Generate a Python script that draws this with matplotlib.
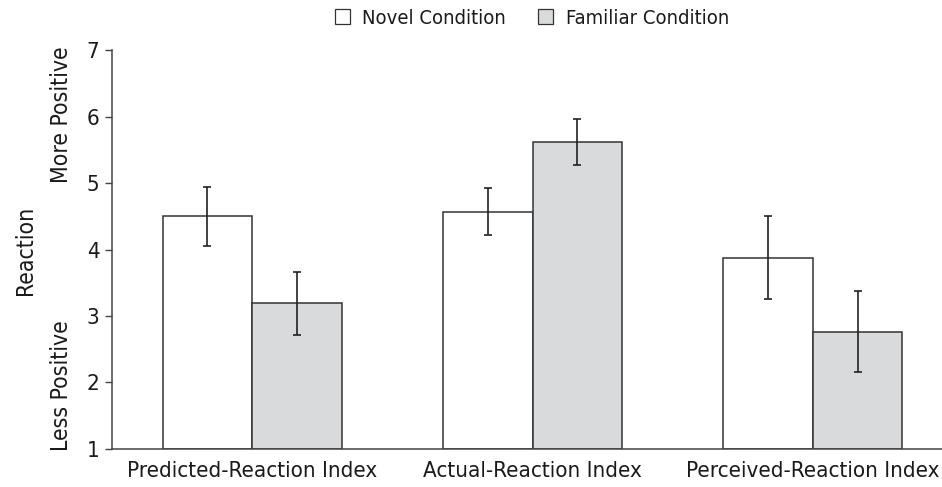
import numpy as np
import matplotlib
matplotlib.use("Agg")
import matplotlib.pyplot as plt
from matplotlib.patches import Patch

plt.rcParams['font.family'] = ['DejaVu Sans']
plt.rcParams['font.stretch'] = 'condensed'

# Mean reaction ratings with error bar ends
categories = ["Predicted-Reaction Index", "Actual-Reaction Index", "Perceived-Reaction Index"]
novel_means = [4.50, 4.57, 3.875]
novel_err_low = [4.05, 4.22, 3.25]
novel_err_high = [4.94, 4.92, 4.51]
familiar_means = [3.20, 5.62, 2.76]
familiar_err_low = [2.72, 5.27, 2.16]
familiar_err_high = [3.66, 5.96, 3.37]

novel_means = np.array(novel_means)
familiar_means = np.array(familiar_means)
novel_yerr = [novel_means - np.array(novel_err_low), np.array(novel_err_high) - novel_means]
familiar_yerr = [familiar_means - np.array(familiar_err_low), np.array(familiar_err_high) - familiar_means]

fig = plt.figure(figsize=(9.42, 4.87), dpi=100)
ax = fig.add_axes([112 / 942, 0.0786, (953 - 112) / 942, 0.818])

x = np.arange(len(categories))
w = 0.319
edge = "#333333"
grey = "#d9dadc"

ax.bar(x - w / 2, novel_means - 1, w, bottom=1, color="white", edgecolor=edge, linewidth=1.1)
ax.bar(x + w / 2, familiar_means - 1, w, bottom=1, color=grey, edgecolor=edge, linewidth=1.1)
ax.errorbar(x - w / 2, novel_means, yerr=novel_yerr, fmt="none", ecolor="#222222",
            elinewidth=1.2, capsize=3.2, capthick=1.2)
ax.errorbar(x + w / 2, familiar_means, yerr=familiar_yerr, fmt="none", ecolor="#222222",
            elinewidth=1.2, capsize=3.2, capthick=1.2)

ax.set_xlim(-0.5, 2.5)
ax.set_ylim(1, 7)
ax.set_yticks(range(1, 8))
ax.set_xticks(x)
ax.set_xticklabels(categories, fontsize=16, color="#1a1a1a")
ax.tick_params(axis="x", length=0, pad=9)
ax.tick_params(axis="y", length=5, width=1, color="#444444", labelsize=16,
               labelcolor="#1a1a1a", pad=4)

for side in ["top", "right"]:
    ax.spines[side].set_visible(False)
for side in ["left", "bottom"]:
    ax.spines[side].set_color("#444444")
    ax.spines[side].set_linewidth(1.1)

fig.text(25 / 942, 1 - 250 / 487, "Reaction", rotation=90, ha="center", va="center",
         fontsize=16.5, color="#1a1a1a")
fig.text(62 / 942, 1 - 115 / 487, "More Positive", rotation=90, ha="center", va="center",
         fontsize=16.5, color="#1a1a1a")
fig.text(62 / 942, 1 - 386 / 487, "Less Positive", rotation=90, ha="center", va="center",
         fontsize=16.5, color="#1a1a1a")

handles = [Patch(facecolor="white", edgecolor=edge, linewidth=0.9, label="Novel Condition"),
           Patch(facecolor=grey, edgecolor=edge, linewidth=0.9, label="Familiar Condition")]
fig.legend(handles=handles, loc="center", bbox_to_anchor=(532 / 942, 1 - 18 / 487), ncol=2,
           frameon=False, fontsize=14.5, handlelength=0.75, handleheight=0.75,
           handletextpad=0.6, columnspacing=1.6, labelcolor="#1a1a1a")

fig.savefig("out.png", dpi=100)
